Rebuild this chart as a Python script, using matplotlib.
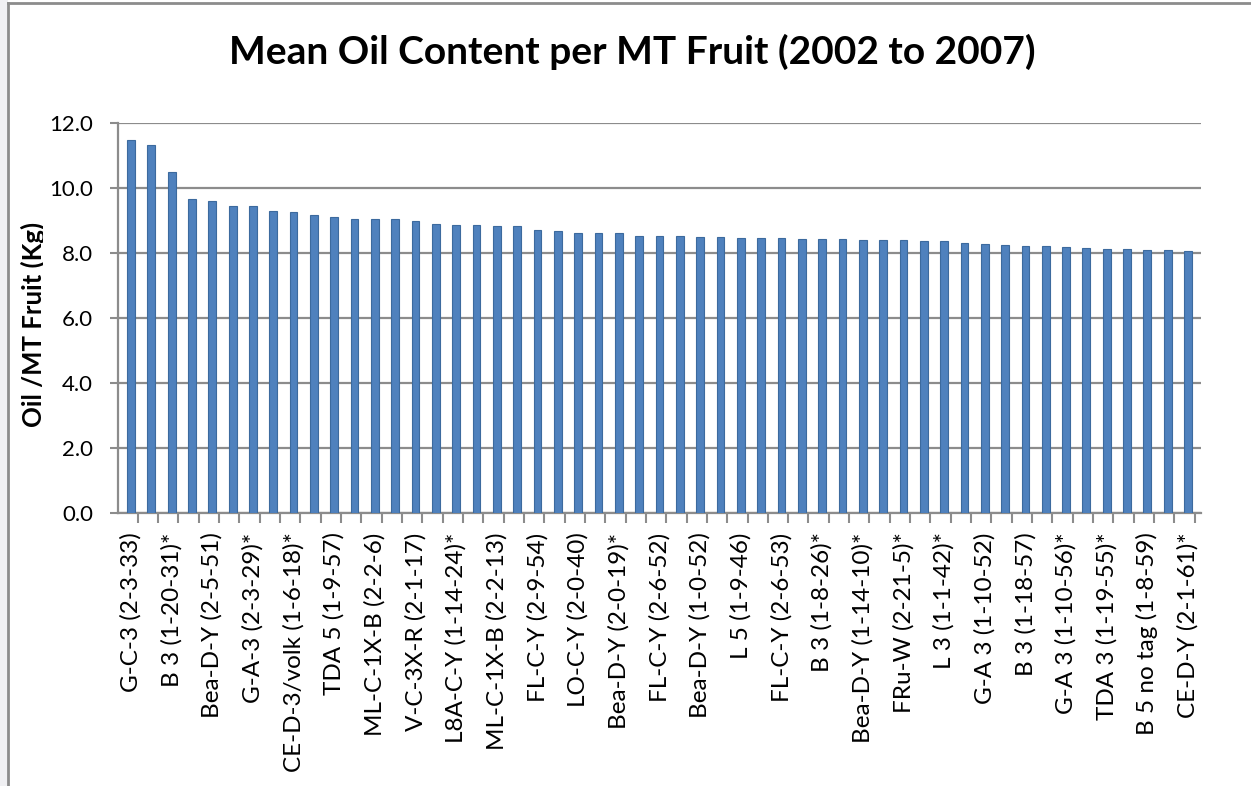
import matplotlib.pyplot as plt
from matplotlib.patches import Rectangle
from matplotlib.transforms import Bbox, TransformedBbox

# mean oil content per bar (kg per MT fruit)
oil_kg = [11.46, 11.32, 10.48, 9.66, 9.58, 9.45, 9.43, 9.27, 9.24, 9.15,
          9.11, 9.05, 9.04, 9.03, 8.99, 8.88, 8.87, 8.84, 8.81, 8.81,
          8.69, 8.66, 8.62, 8.61, 8.60, 8.53, 8.52, 8.52, 8.48, 8.48,
          8.47, 8.47, 8.44, 8.42, 8.41, 8.41, 8.38, 8.38, 8.38, 8.36,
          8.35, 8.29, 8.28, 8.25, 8.22, 8.22, 8.17, 8.16, 8.13, 8.13,
          8.08, 8.08, 8.05]

# Excel only printed every second category name
shown_labels = ["G-C-3 (2-3-33)", "B 3 (1-20-31)*", "Bea-D-Y (2-5-51)",
                "G-A-3 (2-3-29)*", "CE-D-3/volk (1-6-18)*", "TDA 5 (1-9-57)",
                "ML-C-1X-B (2-2-6)", "V-C-3X-R (2-1-17)", "L8A-C-Y (1-14-24)*",
                "ML-C-1X-B (2-2-13)", "FL-C-Y (2-9-54)", "LO-C-Y (2-0-40)",
                "Bea-D-Y (2-0-19)*", "FL-C-Y (2-6-52)", "Bea-D-Y (1-0-52)",
                "L 5 (1-9-46)", "FL-C-Y (2-6-53)", "B 3 (1-8-26)*",
                "Bea-D-Y (1-14-10)*", "FRu-W (2-21-5)*", "L 3 (1-1-42)*",
                "G-A 3 (1-10-52)", "B 3 (1-18-57)", "G-A 3 (1-10-56)*",
                "TDA 3 (1-19-55)*", "B 5 no tag (1-8-59)", "CE-D-Y (2-1-61)*"]

y_ticks = [0, 2, 4, 6, 8, 10, 12]

plt.rcParams['font.family'] = ['Lato', 'DejaVu Sans']

W, H = 1251, 786
fig = plt.figure(figsize=(W / 100, H / 100), dpi=100)

# chart frame like the Excel chart object
fig.patches.append(Rectangle((0, 0), 8 / W, 1, transform=fig.transFigure,
                             facecolor='#F0F0F3', edgecolor='none'))
fig.add_artist(plt.Line2D([8 / W, 8 / W], [0, 1 - 3 / H], color='#8C8C8C',
                          lw=2, transform=fig.transFigure))
fig.add_artist(plt.Line2D([8 / W, 1], [1 - 3 / H, 1 - 3 / H], color='#8C8C8C',
                          lw=2, transform=fig.transFigure))

ax = fig.add_axes([118 / W, 1 - 513 / H, (1201 - 118) / W, (513 - 122.7) / H])

xs = list(range(len(oil_kg)))
ax.bar(xs, oil_kg, width=0.38, color='#4F81BD', edgecolor='#3C6A9E',
       linewidth=0.8, zorder=3)

ax.set_xlim(-0.64, len(oil_kg) - 1 + 0.64)
ax.set_ylim(0, 12)
ax.set_yticks(y_ticks)
ax.set_yticklabels([f"{v:.1f}" for v in y_ticks], fontsize=16)
ax.yaxis.grid(True, color='#8C8C8C', lw=1.6, zorder=0)

ax.set_xticks(xs[::2])
ax.set_xticklabels(shown_labels, rotation=90, fontsize=17.5, va='top', ha='center')
ax.tick_params(axis='x', which='major', length=0, pad=14)
ax.set_xticks([x + 0.33 for x in xs], minor=True)
ax.tick_params(axis='x', which='minor', length=7, width=1.5, color='#8C8C8C',
               direction='out')
ax.tick_params(axis='y', length=6, width=1.5, color='#8C8C8C', pad=12)

for side in ['top', 'right']:
    ax.spines[side].set_visible(False)
for side in ['left', 'bottom']:
    ax.spines[side].set_color('#8C8C8C')
    ax.spines[side].set_linewidth(1.6)

yl = fig.text(33 / W, 1 - 324 / H, "Oil /MT Fruit (Kg)", rotation=90,
              ha='center', va='center', fontsize=18.5, fontweight='bold')
# the original label has its descenders cut off on the right
yl.set_clip_box(TransformedBbox(Bbox([[0, 0], [43 / W, 1]]), fig.transFigure))
yl.set_clip_on(True)

fig.text(632 / W, 1 - 52 / H, "Mean Oil Content per MT Fruit (2002 to 2007)",
         ha='center', va='center', fontsize=28, fontweight='bold')

fig.savefig("out.png", dpi=100)
